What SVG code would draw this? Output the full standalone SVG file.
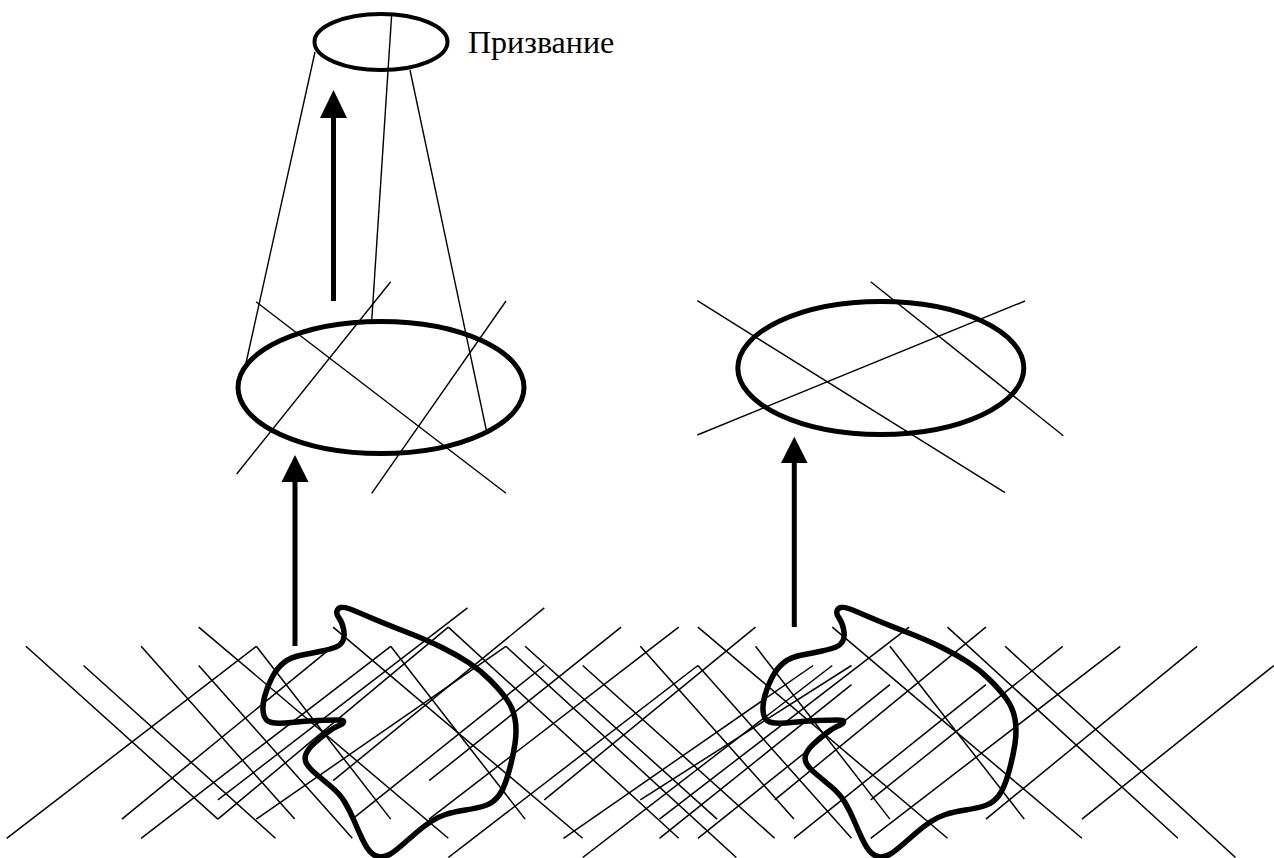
<svg xmlns="http://www.w3.org/2000/svg" width="1274" height="858" viewBox="0 0 1274 858">
<style>
.thin{fill:none;stroke:#000;stroke-width:1.4}
.hl line{fill:none;stroke:#000;stroke-width:1.5}
.ell{fill:none;stroke:#000;stroke-width:5}
.blob{fill:none;stroke:#000;stroke-width:5.5;stroke-linejoin:round}
.shaft{stroke:#000;stroke-width:5}
.head{fill:#000}
.lbl{font-family:"Liberation Serif","Times New Roman",serif;font-size:32px;fill:#000}
</style>
<rect width="1274" height="858" fill="#fff"/>

<g id="hatching" class="hl">
<line x1="25.9" y1="646.3" x2="217.9" y2="819.1"/>
<line x1="83.5" y1="665.5" x2="275.5" y2="838.3"/>
<line x1="141.1" y1="646.3" x2="294.7" y2="819.1"/>
<line x1="198.7" y1="627.1" x2="448.3" y2="838.3"/>
<line x1="198.7" y1="665.5" x2="352.3" y2="838.3"/>
<line x1="256.3" y1="646.3" x2="390.7" y2="819.1"/>
<line x1="333.1" y1="627.1" x2="582.7" y2="838.3"/>
<line x1="390.7" y1="646.3" x2="525.1" y2="819.1"/>
<line x1="448.3" y1="627.1" x2="678.7" y2="838.3"/>
<line x1="505.9" y1="646.3" x2="736.3" y2="857.5"/>
<line x1="525.1" y1="646.3" x2="717.1" y2="819.1"/>
<line x1="582.7" y1="665.5" x2="774.7" y2="838.3"/>
<line x1="640.3" y1="646.3" x2="793.9" y2="819.1"/>
<line x1="697.9" y1="627.1" x2="947.5" y2="838.3"/>
<line x1="697.9" y1="665.5" x2="851.5" y2="838.3"/>
<line x1="755.5" y1="646.3" x2="889.9" y2="819.1"/>
<line x1="832.3" y1="627.1" x2="1081.9" y2="838.3"/>
<line x1="889.9" y1="646.3" x2="1024.3" y2="819.1"/>
<line x1="947.5" y1="627.1" x2="1177.9" y2="838.3"/>
<line x1="1005.1" y1="646.3" x2="1235.5" y2="857.5"/>

<line x1="6.7" y1="838.3" x2="256.3" y2="646.3"/>
<line x1="141.1" y1="838.3" x2="390.7" y2="646.3"/>
<line x1="121.9" y1="819.1" x2="333.1" y2="646.3"/>
<line x1="217.9" y1="799.9" x2="467.5" y2="607.9"/>
<line x1="217.9" y1="819.1" x2="448.3" y2="627.1"/>
<line x1="256.3" y1="819.1" x2="505.9" y2="646.3"/>
<line x1="333.1" y1="780.7" x2="544.3" y2="607.9"/>
<line x1="352.3" y1="819.1" x2="544.3" y2="665.5"/>
<line x1="429.1" y1="819.1" x2="678.7" y2="627.1"/>
<line x1="429.1" y1="780.7" x2="621.1" y2="627.1"/>
<line x1="448.3" y1="857.5" x2="697.9" y2="665.5"/>
<line x1="544.3" y1="799.9" x2="755.5" y2="627.1"/>
<line x1="563.5" y1="838.3" x2="813.1" y2="665.5"/>
<line x1="582.7" y1="857.5" x2="832.3" y2="665.5"/>
<line x1="640.3" y1="799.9" x2="851.5" y2="665.5"/>
<line x1="659.5" y1="838.3" x2="851.5" y2="684.7"/>
<line x1="659.5" y1="819.1" x2="909.1" y2="627.1"/>
<line x1="697.9" y1="838.3" x2="889.9" y2="684.7"/>
<line x1="774.7" y1="799.9" x2="985.9" y2="627.1"/>
<line x1="793.9" y1="838.3" x2="985.9" y2="684.7"/>
<line x1="870.7" y1="838.3" x2="1120.3" y2="646.3"/>
<line x1="870.7" y1="799.9" x2="1062.7" y2="646.3"/>
<line x1="985.9" y1="819.1" x2="1197.1" y2="646.3"/>
<line x1="1081.9" y1="819.1" x2="1273.9" y2="665.5"/>
</g>

<g id="blob-left">
<path class="blob" d="M337,611 Q338,608 341,607.5 Q344,607 348.5,608.5 Q353,610 368,616.5 Q383,623 405,631.5 Q427,640 442,647.5 Q457,655 468.5,662.5 Q480,670 490,680 Q500,690 506.5,699 Q513,708 515,719 Q517,730 515,743.5 Q513,757 508.5,773 Q504,789 498.5,796 Q493,803 485.5,805.5 Q478,808 465.5,810 Q453,812 445.5,814.5 Q438,817 431,821.5 Q424,826 416.5,832.5 Q409,839 401.5,845.5 Q394,852 389.5,854.5 Q385,857 380.5,857 Q376,857 371.5,853 Q367,849 362.5,839.5 Q358,830 354,820.5 Q350,811 345,802.5 Q340,794 331,786.5 Q322,779 315.5,773.5 Q309,768 306.5,763.5 Q304,759 306,754 Q308,749 314,743.5 Q320,738 326.5,733 Q333,728 338,726 Q343,724 343.5,722 Q344,720 337,720 Q330,720 317.5,720.5 Q305,721 291.5,722.5 Q278,724 271.5,722.5 Q265,721 263.5,714 Q262,707 264.5,697 Q267,687 272,677.5 Q277,668 284,662.5 Q291,657 302,655 Q313,653 322,651 Q331,649 336,647 Q341,645 343,640.5 Q345,636 343.5,629 Q342,622 339,618 Q336,614 337,611 Z"/>
</g>
<g id="blob-right">
<path class="blob" transform="translate(500,0)" d="M337,611 Q338,608 341,607.5 Q344,607 348.5,608.5 Q353,610 368,616.5 Q383,623 405,631.5 Q427,640 442,647.5 Q457,655 468.5,662.5 Q480,670 490,680 Q500,690 506.5,699 Q513,708 515,719 Q517,730 515,743.5 Q513,757 508.5,773 Q504,789 498.5,796 Q493,803 485.5,805.5 Q478,808 465.5,810 Q453,812 445.5,814.5 Q438,817 431,821.5 Q424,826 416.5,832.5 Q409,839 401.5,845.5 Q394,852 389.5,854.5 Q385,857 380.5,857 Q376,857 371.5,853 Q367,849 362.5,839.5 Q358,830 354,820.5 Q350,811 345,802.5 Q340,794 331,786.5 Q322,779 315.5,773.5 Q309,768 306.5,763.5 Q304,759 306,754 Q308,749 314,743.5 Q320,738 326.5,733 Q333,728 338,726 Q343,724 343.5,722 Q344,720 337,720 Q330,720 317.5,720.5 Q305,721 291.5,722.5 Q278,724 271.5,722.5 Q265,721 263.5,714 Q262,707 264.5,697 Q267,687 272,677.5 Q277,668 284,662.5 Q291,657 302,655 Q313,653 322,651 Q331,649 336,647 Q341,645 343,640.5 Q345,636 343.5,629 Q342,622 339,618 Q336,614 337,611 Z"/>
</g>

<g id="cone">
<line class="thin" x1="315" y1="52" x2="246" y2="363"/>
<line class="thin" x1="391.7" y1="14" x2="371.7" y2="321"/>
<line class="thin" x1="410" y1="70" x2="486.7" y2="432"/>
</g>

<g id="ellipse-left">
<ellipse class="ell" cx="381" cy="387.5" rx="143" ry="66"/>
<line class="thin" x1="256" y1="301.7" x2="506" y2="493.3"/>
<line class="thin" x1="390.7" y1="281.7" x2="236.7" y2="474"/>
<line class="thin" x1="506" y1="301" x2="371.7" y2="493.3"/>
</g>

<g id="ellipse-right">
<ellipse class="ell" cx="880.8" cy="368" rx="143" ry="66.5"/>
<line class="thin" x1="697.3" y1="300.7" x2="1005" y2="492.7"/>
<line class="thin" x1="870.7" y1="281.7" x2="1063.3" y2="435.7"/>
<line class="thin" x1="697.3" y1="435" x2="1025" y2="301"/>
</g>

<g id="node-vocation">
<ellipse cx="381" cy="42" rx="66.5" ry="28" fill="none" stroke="#000" stroke-width="4"/>
<text class="lbl" x="468" y="53">Призвание</text>
</g>

<g id="connectors">
<line class="shaft" x1="333.5" y1="301" x2="333.5" y2="114"/>
<polygon class="head" points="320,118 347,118 333.5,90"/>
<line class="shaft" x1="295" y1="646" x2="295" y2="478"/>
<polygon class="head" points="281.5,482 308.5,482 295,455"/>
<line class="shaft" x1="794.3" y1="627" x2="794.3" y2="459"/>
<polygon class="head" points="781,463 807.6,463 794.3,436.7"/>
</g>
</svg>
